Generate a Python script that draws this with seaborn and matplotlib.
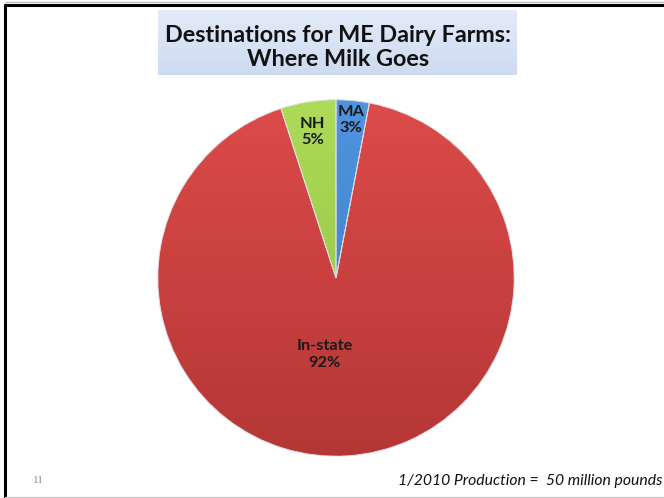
import numpy as np
import matplotlib
matplotlib.use("Agg")
import matplotlib.pyplot as plt
from matplotlib.lines import Line2D
import seaborn as sns

# --- data ---
destinations = ["MA", "In-state", "NH"]
shares = [3, 92, 5]
pct_labels = ["3%", "92%", "5%"]
label_dist = [0.89, 0.43, 0.83]
top_colors = ["#4f94e0", "#dc4b49", "#addb58"]
bottom_colors = ["#3a78c4", "#b43736", "#8fbb3f"]

title_lines = "Destinations for ME Dairy Farms:\nWhere Milk Goes"
footnote = "1/2010 Production =  50 million pounds"
slide_number = "11"

sns.set_style("white")
plt.rcParams["font.family"] = ["Lato", "DejaVu Sans"]

W, H = 664, 498
fig = plt.figure(figsize=(W / 100, H / 100), dpi=100)
fig.patch.set_facecolor("white")

# title banner with soft gradient
tax = fig.add_axes([158 / W, 1 - 75 / H, 359 / W, 65 / H])
grad = np.linspace(0, 1, 64)[:, None]
banner = matplotlib.colors.LinearSegmentedColormap.from_list("b", ["#e3ebf8", "#cddbf1"])
tax.imshow(grad, cmap=banner, aspect="auto", extent=[0, 1, 0, 1], origin="upper")
tax.set_axis_off()
fig.text(338 / W, 1 - 47.5 / H, title_lines, ha="center", va="center",
         fontsize=16.8, fontweight="bold", color="#111111", linespacing=1.12)

# pie
ax = fig.add_axes([156 / W, 40 / H, 360 / W, 360 / H])
wedges, _ = ax.pie(shares, startangle=90, counterclock=False, radius=1,
                   colors=top_colors,
                   wedgeprops=dict(edgecolor="#e0e0e0", linewidth=0.7))
ax.set_aspect("equal")
ax.set_axis_off()

# vertical gradient inside each wedge
for w, c_top, c_bot in zip(wedges, top_colors, bottom_colors):
    cmap = matplotlib.colors.LinearSegmentedColormap.from_list("g", [c_top, c_bot])
    im = ax.imshow(grad, cmap=cmap, aspect="auto", extent=[-1, 1, -1, 1],
                   origin="upper", zorder=w.get_zorder() - 0.1)
    im.set_clip_path(w)
    w.set_facecolor("none")

ax.set_xlim(-1.01, 1.01)
ax.set_ylim(-1.01, 1.01)

for w, name, pct, d in zip(wedges, destinations, pct_labels, label_dist):
    mid = np.deg2rad((w.theta1 + w.theta2) / 2)
    x, y = d * np.cos(mid), d * np.sin(mid)
    if name == "In-state":
        x -= 0.09
    ax.text(x, y, f"{name}\n{pct}", ha="center", va="center", fontsize=11.8,
            fontweight="bold", color="#1a1a1a", linespacing=1.25)

# footer
fig.text(662 / W, 1 - 481 / H, footnote, ha="right", va="center",
         fontsize=11.3, style="italic", color="#111111")
fig.text(38 / W, 1 - 480 / H, slide_number, ha="center", va="center",
         fontsize=8, color="#888888", family="Liberation Serif")

# slide frame
fig.add_artist(Line2D([5 / W, 5 / W], [0, 1 - 5 / H], color="black", lw=2.2))
fig.add_artist(Line2D([5 / W, 1], [1 - 5 / H, 1 - 5 / H], color="black", lw=2.2))
fig.add_artist(Line2D([5 / W, 1], [1 - 2.5 / H, 1 - 2.5 / H], color="#bbbbbb", lw=1))
fig.add_artist(Line2D([5 / W, 1], [1.5 / H, 1.5 / H], color="#cccccc", lw=1))

fig.savefig("out.png", dpi=100)
